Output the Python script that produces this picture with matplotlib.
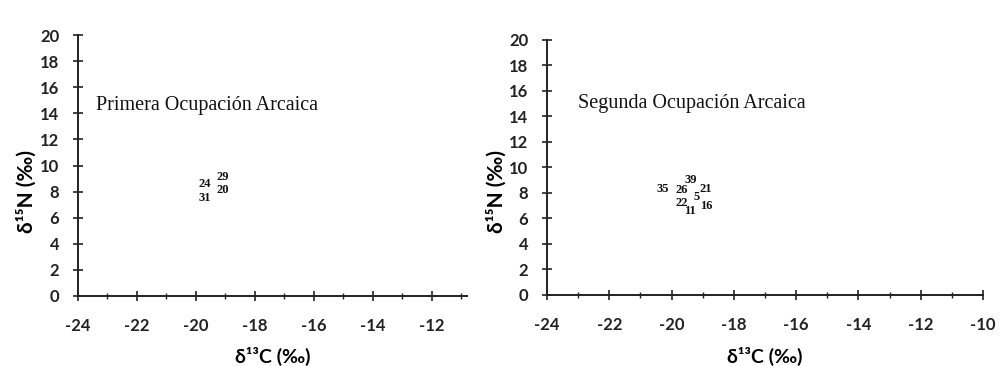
import matplotlib
matplotlib.use("Agg")
import matplotlib.pyplot as plt
import numpy as np

# Data: (label, d13C, d15N)
left_labels = ["24", "29", "20", "31"]
left_c = [-19.7, -19.1, -19.1, -19.7]
left_n = [8.6, 9.1, 8.1, 7.5]

right_labels = ["35", "39", "26", "21", "5", "22", "16", "11"]
right_c = [-20.27, -19.4, -19.68, -18.9, -19.18, -19.68, -18.9, -19.4]
right_n = [8.3, 9.05, 8.2, 8.3, 7.65, 7.2, 6.95, 6.6]

xticks = [-24, -22, -20, -18, -16, -14, -12, -10]
yticks = list(range(0, 21, 2))

sans = ["Lato", "DejaVu Sans"]
serif = ["Liberation Serif", "DejaVu Serif"]

fig = plt.figure(figsize=(10, 3.66), dpi=100)
ax1 = fig.add_axes([0.078, 0.1913, 0.389, 0.713])
ax2 = fig.add_axes([0.547, 0.194, 0.436, 0.697])


def style(ax, xmax, labels, cs, ns, title, title_xy, ylab_xy, xlab_y):
    ax.set_xlim(-24, xmax)
    ax.set_ylim(0, 20)
    for s in ["top", "right"]:
        ax.spines[s].set_visible(False)
    for s in ["left", "bottom"]:
        ax.spines[s].set_linewidth(1.4)
        ax.spines[s].set_color("#222222")
    xt = [t for t in xticks if t <= xmax]
    ax.set_xticks(xt)
    ax.set_xticklabels([str(t) for t in xt])
    ax.set_xticks(np.arange(-24, xmax + 0.01, 1), minor=True)
    ax.set_yticks(yticks)
    ax.set_yticklabels([str(t) for t in yticks])
    ax.tick_params(axis="both", which="major", direction="inout", length=7, width=1.2,
                   colors="#222222")
    ax.tick_params(axis="x", which="major", pad=12)
    ax.tick_params(axis="y", which="major", pad=10)
    ax.tick_params(axis="x", which="minor", direction="inout", length=5, width=1.0,
                   colors="#222222")
    ax.tick_params(axis="y", which="minor", left=False)
    for lab in ax.get_xticklabels() + ax.get_yticklabels():
        lab.set_fontfamily(sans)
        lab.set_fontweight("bold")
        lab.set_fontsize(12)
    ax.set_xlabel("δ¹³C (‰)", family=sans, fontweight="bold", fontsize=14)
    ax.set_ylabel("δ¹⁵N (‰)", family=sans, fontweight="bold", fontsize=15)
    ax.yaxis.set_label_coords(ylab_xy[0], ylab_xy[1])
    ax.xaxis.set_label_coords(0.5, xlab_y)
    for l, c, n in zip(labels, cs, ns):
        ax.text(c, n, l, family=serif, fontweight="bold", fontsize=9,
                ha="center", va="center", color="#111111")
    ax.text(title_xy[0], title_xy[1], title, family=serif, fontsize=14.5,
            ha="left", va="center", color="#111111")


style(ax1, -10.8, left_labels, left_c, left_n, "Primera Ocupación Arcaica",
      (-23.4, 14.6), (-0.105, 0.402), -0.195)
style(ax2, -10, right_labels, right_c, right_n, "Segunda Ocupación Arcaica",
      (-23.0, 15.0), (-0.092, 0.404), -0.204)

fig.savefig("out.png", dpi=100, facecolor="white")
